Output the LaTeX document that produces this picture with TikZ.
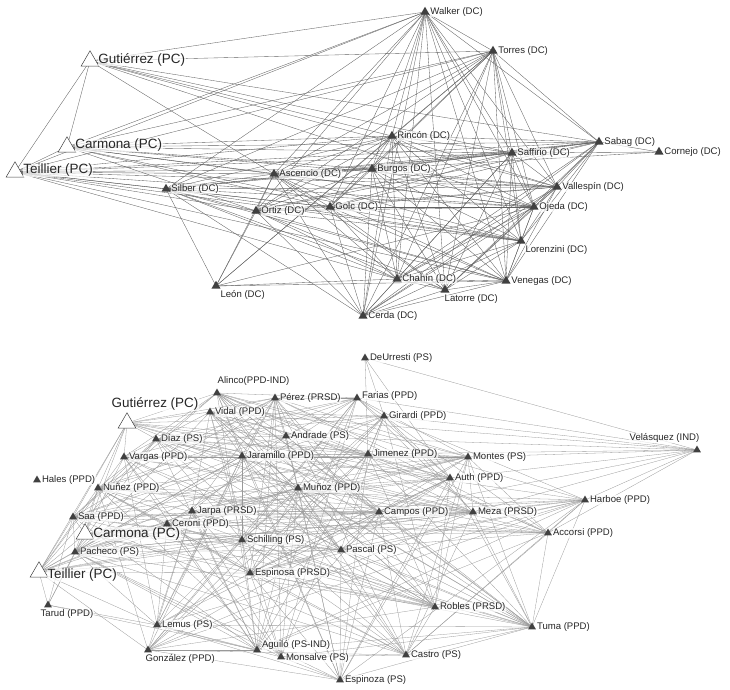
\documentclass[tikz,border=0pt]{standalone}
\usepackage{fontspec}
\setmainfont{Liberation Sans}
\usetikzlibrary{shapes.geometric,backgrounds}
\tikzset{
  dc/.style={regular polygon,regular polygon sides=3,fill=black!75,inner sep=0pt,minimum size=10.5bp},
  sm/.style={dc,minimum size=9bp},
  pc/.style={regular polygon,regular polygon sides=3,draw=black!75,fill=white,line width=.5pt,inner sep=0pt,minimum size=20.5bp},
  lbl/.style={font=\fontsize{9.6}{11}\selectfont,text=black!85,fill=white,fill opacity=.7,text opacity=1,inner sep=.5pt},
  biglbl/.style={lbl,font=\fontsize{13.5}{15}\selectfont},
  tie/.style={black!62,line width=.35pt},
  tieb/.style={black!40,line width=.3pt}
}
% deputies of the lower network that get random ties
\newcommand{\lowerset}{alinco,perez,farias,vidal,girardi,diaz,andrade,vargas,jaramillo,jimenez,montes,nunez,munoz,auth,harboe,jarpa,saa,campos,meza,ceroni,accorsi,schilling,pascal,pacheco,espinosa,robles,lemus,tuma,gonzalez,aguilo,monsalve,castro,espinoza}
\newcommand{\upperset}{walker,torres,rincon,saffirio,burgos,ascencio,vallespin,ortiz,golc,ojeda,lorenzini,chahin,venegas,sabag,silber,latorre,cerda}

\begin{document}
\begin{tikzpicture}[x=1bp,y=-1bp,label distance=1.5bp]
\useasboundingbox (0,0) rectangle (730,690);

% upper network
\node[dc,label={[lbl]right:Walker (DC)}] (walker) at (425,12) {};
\node[dc,label={[lbl]right:Torres (DC)}] (torres) at (493,51) {};
\node[pc,label={[biglbl,yshift=1.5bp]right:Gutiérrez (PC)}] (gutiA) at (90,61) {};
\node[pc,label={[biglbl,yshift=1.5bp]right:Carmona (PC)}] (carmA) at (67,147) {};
\node[pc,label={[biglbl,yshift=1.5bp]right:Teillier (PC)}] (teiA) at (15,172) {};
\node[dc,label={[lbl]right:Rincón (DC)}] (rincon) at (392,136) {};
\node[dc,label={[lbl]right:Sabag (DC)}] (sabag) at (599,142) {};
\node[dc,label={[lbl]right:Cornejo (DC)}] (cornejo) at (659,152) {};
\node[dc,label={[lbl]right:Saffirio (DC)}] (saffirio) at (512,153) {};
\node[dc,label={[lbl]right:Burgos (DC)}] (burgos) at (372,169) {};
\node[dc,label={[lbl]right:Ascencio (DC)}] (ascencio) at (274,174) {};
\node[dc,label={[lbl]right:Silber (DC)}] (silber) at (166,189) {};
\node[dc,label={[lbl]right:Vallespín (DC)}] (vallespin) at (557,187) {};
\node[dc,label={[lbl]right:Ortiz (DC)}] (ortiz) at (256,211) {};
\node[dc,label={[lbl]right:Golc (DC)}] (golc) at (330,207) {};
\node[dc,label={[lbl]right:Ojeda (DC)}] (ojeda) at (534,207) {};
\node[dc,label={[lbl,anchor=north west]south east:Lorenzini (DC)}] (lorenzini) at (521,241) {};
\node[dc,label={[lbl,anchor=north west]south east:León (DC)}] (leon) at (216,286) {};
\node[dc,label={[lbl]right:Chahín (DC)}] (chahin) at (397,279) {};
\node[dc,label={[lbl]right:Venegas (DC)}] (venegas) at (506,281) {};
\node[dc,label={[lbl,anchor=north west,xshift=-1bp]south:Latorre (DC)}] (latorre) at (445,290) {};
\node[dc,label={[lbl]right:Cerda (DC)}] (cerda) at (363,316) {};

% lower network
\node[sm,label={[lbl]right:DeUrresti (PS)}] (deurresti) at (365,358) {};
\node[sm,label={[lbl,anchor=south west]north:Alinco(PPD-IND)}] (alinco) at (217,393) {};
\node[sm,label={[lbl]right:Pérez (PRSD)}] (perez) at (275,398) {};
\node[sm,label={[lbl,yshift=2bp]right:Farias (PPD)}] (farias) at (357,398) {};
\node[pc,label={[biglbl,anchor=south west,xshift=-16bp]north:Gutiérrez (PC)}] (gutiB) at (127,423) {};
\node[sm,label={[lbl]right:Vidal (PPD)}] (vidal) at (210,412) {};
\node[sm,label={[lbl]right:Girardi (PPD)}] (girardi) at (384,416) {};
\node[sm,label={[lbl]right:Díaz (PS)}] (diaz) at (156,439) {};
\node[sm,label={[lbl]right:Andrade (PS)}] (andrade) at (286,436) {};
\node[sm,label={[lbl,anchor=south east,xshift=3bp]north:Velásquez (IND)}] (velasquez) at (697,450) {};
\node[sm,label={[lbl]right:Vargas (PPD)}] (vargas) at (124,457) {};
\node[sm,label={[lbl]right:Jaramillo (PPD)}] (jaramillo) at (242,456) {};
\node[sm,label={[lbl]right:Jimenez (PPD)}] (jimenez) at (368,454) {};
\node[sm,label={[lbl]right:Montes (PS)}] (montes) at (468,457) {};
\node[sm,label={[lbl]right:Hales (PPD)}] (hales) at (37,480) {};
\node[sm,label={[lbl]right:Nuñez (PPD)}] (nunez) at (98,488) {};
\node[sm,label={[lbl]right:Muñoz (PPD)}] (munoz) at (298,488) {};
\node[sm,label={[lbl]right:Auth (PPD)}] (auth) at (450,478) {};
\node[sm,label={[lbl]right:Harboe (PPD)}] (harboe) at (585,500) {};
\node[sm,label={[lbl]right:Jarpa (PRSD)}] (jarpa) at (192,511) {};
\node[sm,label={[lbl]right:Saa (PPD)}] (saa) at (73,517) {};
\node[sm,label={[lbl]right:Campos (PPD)}] (campos) at (379,512) {};
\node[sm,label={[lbl]right:Meza (PRSD)}] (meza) at (473,512) {};
\node[sm,label={[lbl]right:Ceroni (PPD)}] (ceroni) at (167,524) {};
\node[pc,label={[biglbl]right:Carmona (PC)}] (carmB) at (85,534) {};
\node[sm,label={[lbl]right:Accorsi (PPD)}] (accorsi) at (548,533) {};
\node[sm,label={[lbl]right:Schilling (PS)}] (schilling) at (242,540) {};
\node[sm,label={[lbl]right:Pascal (PS)}] (pascal) at (341,550) {};
\node[sm,label={[lbl]right:Pacheco (PS)}] (pacheco) at (75,552) {};
\node[pc,label={[biglbl,yshift=-3bp]right:Teillier (PC)}] (teiB) at (39,572) {};
\node[sm,label={[lbl]right:Espinosa (PRSD)}] (espinosa) at (250,573) {};
\node[sm,label={[lbl,anchor=north west,xshift=-8bp]south:Tarud (PPD)}] (tarud) at (48,605) {};
\node[sm,label={[lbl]right:Robles (PRSD)}] (robles) at (435,607) {};
\node[sm,label={[lbl]right:Lemus (PS)}] (lemus) at (157,625) {};
\node[sm,label={[lbl]right:Tuma (PPD)}] (tuma) at (532,627) {};
\node[sm,label={[lbl,anchor=north west,xshift=-3bp]south:González (PPD)}] (gonzalez) at (148,650) {};
\node[sm,label={[lbl,yshift=5bp]right:Aguiló (PS-IND)}] (aguilo) at (257,650) {};
\node[sm,label={[lbl,yshift=-1bp]right:Monsalve (PS)}] (monsalve) at (281,657) {};
\node[sm,label={[lbl]right:Castro (PS)}] (castro) at (406,655) {};
\node[sm,label={[lbl]right:Espinoza (PS)}] (espinoza) at (340,680) {};

\begin{scope}[on background layer]
% upper ties
\foreach \a [count=\i] in \upperset
  \foreach \b [count=\j] in \upperset
    {\ifnum\j>\i \draw[tie] (\a.center) -- (\b.center);\fi}
\foreach \s/\tl in {gutiA/{teiA,carmA,walker,torres,rincon,saffirio,ascencio,sabag,ojeda,vallespin},
  carmA/{teiA,walker,torres,rincon,burgos,ascencio,saffirio,ojeda,vallespin,golc,ortiz,sabag,lorenzini},
  teiA/{walker,torres,rincon,burgos,ascencio,silber,ortiz,golc,saffirio,vallespin,ojeda,lorenzini,chahin,venegas,sabag},
  leon/{ascencio,ortiz,silber,chahin,venegas,ojeda,torres,rincon},
  cornejo/{sabag,saffirio,burgos}}
  \foreach \t in \tl \draw[tie] (\s.center) -- (\t.center);
% lower ties
\pgfmathsetseed{17}
\foreach \a [count=\i] in \lowerset
  \foreach \b [count=\j] in \lowerset
    {\ifnum\j>\i
       \pgfmathsetmacro\r{rnd}
       \ifdim\r pt<0.55pt \draw[tieb] (\a.center) -- (\b.center);\fi
     \fi}
\foreach \s/\tl in {deurresti/{velasquez,jimenez,auth,girardi},
  velasquez/{girardi,farias,jimenez,montes,auth,harboe,accorsi,meza,vidal,andrade,campos},
  tarud/{teiB,lemus,pacheco,saa,carmB,aguilo},
  teiB/{saa,pacheco,nunez,vargas,carmB,gutiB,diaz,ceroni,jarpa,lemus,gonzalez,schilling,espinosa,munoz,jaramillo,campos,meza,accorsi},
  gutiB/{vidal,alinco,perez,diaz,vargas,nunez,saa,carmB,andrade,girardi,jimenez,jaramillo,munoz,auth,meza},
  carmB/{saa,pacheco,ceroni,jarpa,nunez,vargas,schilling,espinosa,pascal,campos,meza,accorsi,robles}}
  \foreach \t in \tl \draw[tieb] (\s.center) -- (\t.center);
\end{scope}
\end{tikzpicture}
\end{document}
